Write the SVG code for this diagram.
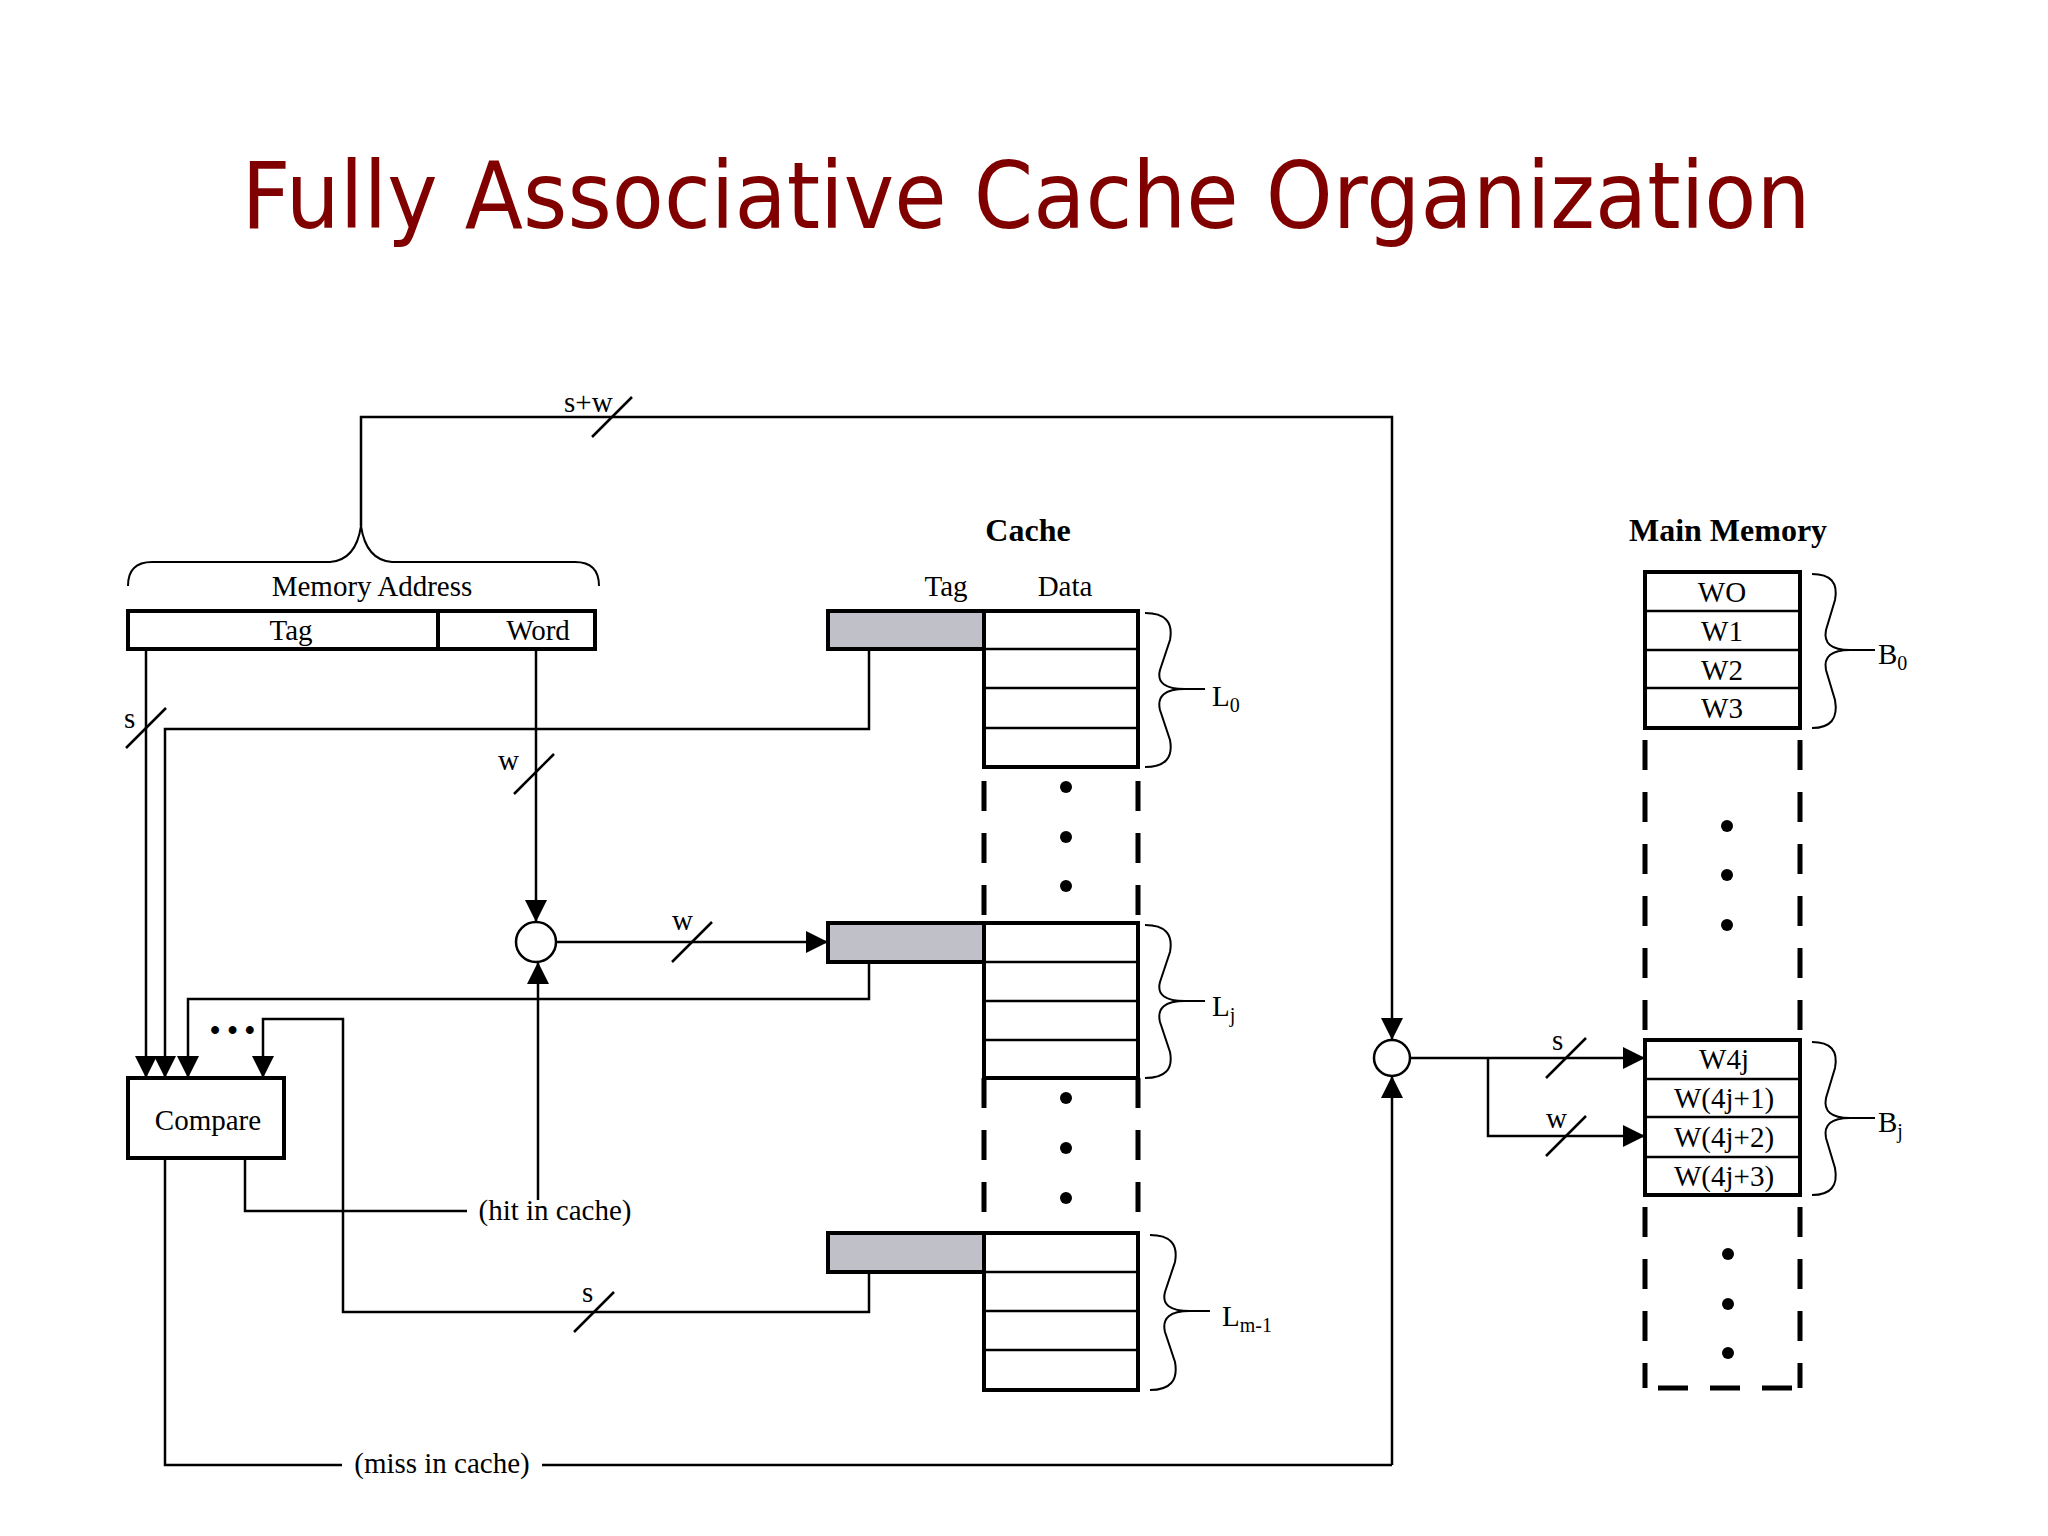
<svg xmlns="http://www.w3.org/2000/svg" width="2048" height="1536" viewBox="0 0 2048 1536">
<defs>
<marker id="ah" viewBox="0 0 10 10" refX="10" refY="5" markerWidth="26" markerHeight="22" markerUnits="userSpaceOnUse" orient="auto"><path d="M0,0 L10,5 L0,10 Z" fill="#000"/></marker>
</defs>
<style>
.t{font-family:"Liberation Serif",serif;font-size:29px;fill:#000}
.b{font-family:"Liberation Serif",serif;font-size:32px;font-weight:bold;fill:#000}
.ln{stroke:#000;stroke-width:2.5;fill:none}
.ar{stroke:#000;stroke-width:2.5;fill:none;marker-end:url(#ah)}
.bx{stroke:#000;stroke-width:4;fill:#fff}
.tg{stroke:#000;stroke-width:4;fill:#c0c0c8}
.dash{stroke:#000;stroke-width:5;stroke-dasharray:30 22;fill:none}
.br{stroke:#000;stroke-width:2;fill:none}
.dot{fill:#000}
</style>
<rect width="2048" height="1536" fill="#fff"/>
<text x="1026" y="228" text-anchor="middle" font-family="'DejaVu Sans',sans-serif" font-size="92" fill="#800000" textLength="1569" lengthAdjust="spacingAndGlyphs">Fully Associative Cache Organization</text>

<g id="connectors">
<path class="ln" d="M361 526 V417 H1392 V1040" marker-end="url(#ah)"/>
<path class="ar" d="M1392 1465 V1076"/>
<path class="ln" d="M165 1158 V1465 H342 M542 1465 H1392"/>
<path class="ar" d="M146 649 V1078"/>
<path class="ar" d="M869 649 V729 H165 V1078"/>
<path class="ar" d="M869 962 V999 H188 V1078"/>
<path class="ar" d="M869 1272 V1312 H343 V1019 H263 V1078"/>
<path class="ar" d="M536 649 V922"/>
<path class="ar" d="M538 1200 V962"/>
<path class="ar" d="M556 942 H828"/>
<path class="ln" d="M245 1158 V1211 H467"/>
<path class="ar" d="M1410 1058 H1645"/>
<path class="ar" d="M1488 1058 V1136 H1645"/>
<g class="ln">
<line x1="592" y1="437" x2="632" y2="397"/>
<line x1="126" y1="748" x2="166" y2="708"/>
<line x1="514" y1="794" x2="554" y2="754"/>
<line x1="672" y1="962" x2="712" y2="922"/>
<line x1="574" y1="1332" x2="614" y2="1292"/>
<line x1="1546" y1="1078" x2="1586" y2="1038"/>
<line x1="1546" y1="1156" x2="1586" y2="1116"/>
</g>
<text class="t" x="564" y="412">s+w</text>
<text class="t" x="124" y="728" font-size="24">s</text>
<text class="t" x="498" y="770" font-size="26">w</text>
<text class="t" x="672" y="930" font-size="26">w</text>
<text class="t" x="582" y="1302" font-size="26">s</text>
<text class="t" x="1552" y="1050" font-size="24">s</text>
<text class="t" x="1546" y="1128" font-size="24">w</text>
<text class="t" x="210" y="1040" font-size="30" font-weight="bold">• • •</text>
<text class="t" x="555" y="1220" text-anchor="middle">(hit in cache)</text>
<text class="t" x="442" y="1473" text-anchor="middle">(miss in cache)</text>
</g>

<g id="junction1"><circle cx="536" cy="942" r="20" fill="#fff" stroke="#000" stroke-width="2.5"/></g>
<g id="junction2"><circle cx="1392" cy="1058" r="18" fill="#fff" stroke="#000" stroke-width="2.5"/></g>

<g id="address">
<path class="br" stroke-width="3.5" d="M128 586 Q128 562 152 562 L 330 562 Q 356 560 361 526 Q 366 560 392 562 L 575 562 Q 599 562 599 586"/>
<text class="t" x="372" y="596" text-anchor="middle">Memory Address</text>
<rect class="bx" x="128" y="611" width="467" height="38"/>
<line x1="438" y1="611" x2="438" y2="649" stroke="#000" stroke-width="4"/>
<text class="t" x="291" y="640" text-anchor="middle">Tag</text>
<text class="t" x="538" y="640" text-anchor="middle">Word</text>
</g>

<g id="compare">
<rect class="bx" x="128" y="1078" width="156" height="80"/>
<text class="t" x="208" y="1130" text-anchor="middle">Compare</text>
</g>

<g id="cache">
<text class="b" x="1028" y="541" text-anchor="middle">Cache</text>
<text class="t" x="946" y="596" text-anchor="middle">Tag</text>
<text class="t" x="1065" y="596" text-anchor="middle">Data</text>
<g id="L0">
<rect class="tg" x="828" y="611" width="156" height="38"/>
<rect class="bx" x="984" y="611" width="154" height="156"/>
<path class="ln" stroke-width="4" d="M984 649 H1138 M984 688 H1138 M984 728 H1138"/>
</g>
<g id="Lj">
<rect class="tg" x="828" y="923" width="156" height="39"/>
<rect class="bx" x="984" y="923" width="154" height="155"/>
<path class="ln" stroke-width="4" d="M984 962 H1138 M984 1001 H1138 M984 1040 H1138"/>
</g>
<g id="Lm1">
<rect class="tg" x="828" y="1233" width="156" height="39"/>
<rect class="bx" x="984" y="1233" width="154" height="157"/>
<path class="ln" stroke-width="4" d="M984 1272 H1138 M984 1311 H1138 M984 1350 H1138"/>
</g>
<path class="dash" d="M984 781 V923 M1138 781 V923 M984 1078 V1233 M1138 1078 V1233"/>
<circle class="dot" cx="1066" cy="787" r="6"/><circle class="dot" cx="1066" cy="837" r="6"/><circle class="dot" cx="1066" cy="886" r="6"/>
<circle class="dot" cx="1066" cy="1098" r="6"/><circle class="dot" cx="1066" cy="1148" r="6"/><circle class="dot" cx="1066" cy="1198" r="6"/>
<path class="br" d="M1145 613 Q1175 613 1170 640 L1160 670 Q1155 689 1185 689 Q1155 689 1160 710 L1170 740 Q1175 767 1145 767 M1185 689 H1205"/>
<path class="br" d="M1145 925 Q1175 925 1170 952 L1160 982 Q1155 1001 1185 1001 Q1155 1001 1160 1022 L1170 1052 Q1175 1078 1145 1078 M1185 1001 H1205"/>
<path class="br" d="M1150 1235 Q1180 1235 1175 1262 L1165 1292 Q1160 1311 1190 1311 Q1160 1311 1165 1332 L1175 1362 Q1180 1390 1150 1390 M1190 1311 H1210"/>
<text class="t" x="1212" y="706">L<tspan font-size="20" dy="6">0</tspan></text>
<text class="t" x="1212" y="1016">L<tspan font-size="20" dy="6">j</tspan></text>
<text class="t" x="1222" y="1326">L<tspan font-size="20" dy="6">m-1</tspan></text>
</g>

<g id="memory">
<text class="b" x="1728" y="541" text-anchor="middle">Main Memory</text>
<rect class="bx" x="1645" y="572" width="155" height="156"/>
<path class="ln" stroke-width="4" d="M1645 611 H1800 M1645 650 H1800 M1645 688 H1800"/>
<text class="t" x="1722" y="602" text-anchor="middle">WO</text>
<text class="t" x="1722" y="641" text-anchor="middle">W1</text>
<text class="t" x="1722" y="680" text-anchor="middle">W2</text>
<text class="t" x="1722" y="718" text-anchor="middle">W3</text>
<rect class="bx" x="1645" y="1040" width="155" height="155"/>
<path class="ln" stroke-width="4" d="M1645 1079 H1800 M1645 1117 H1800 M1645 1157 H1800"/>
<text class="t" x="1724" y="1069" text-anchor="middle">W4j</text>
<text class="t" x="1724" y="1108" text-anchor="middle">W(4j+1)</text>
<text class="t" x="1724" y="1147" text-anchor="middle">W(4j+2)</text>
<text class="t" x="1724" y="1186" text-anchor="middle">W(4j+3)</text>
<path class="dash" d="M1645 740 V1040 M1800 740 V1040 M1645 1207 V1388 M1800 1207 V1388 M1658 1388 H1803"/>
<circle class="dot" cx="1727" cy="826" r="6"/><circle class="dot" cx="1727" cy="875" r="6"/><circle class="dot" cx="1727" cy="925" r="6"/>
<circle class="dot" cx="1728" cy="1254" r="6"/><circle class="dot" cx="1728" cy="1304" r="6"/><circle class="dot" cx="1728" cy="1353" r="6"/>
<path class="br" d="M1812 574 Q1840 574 1835 600 L1826 630 Q1822 650 1850 650 Q1822 650 1826 670 L1835 700 Q1840 728 1812 728 M1850 650 H1875"/>
<path class="br" d="M1812 1042 Q1840 1042 1835 1068 L1826 1098 Q1822 1118 1850 1118 Q1822 1118 1826 1138 L1835 1168 Q1840 1195 1812 1195 M1850 1118 H1875"/>
<text class="t" x="1878" y="664">B<tspan font-size="20" dy="6">0</tspan></text>
<text class="t" x="1878" y="1132">B<tspan font-size="20" dy="6">j</tspan></text>
</g>
</svg>
